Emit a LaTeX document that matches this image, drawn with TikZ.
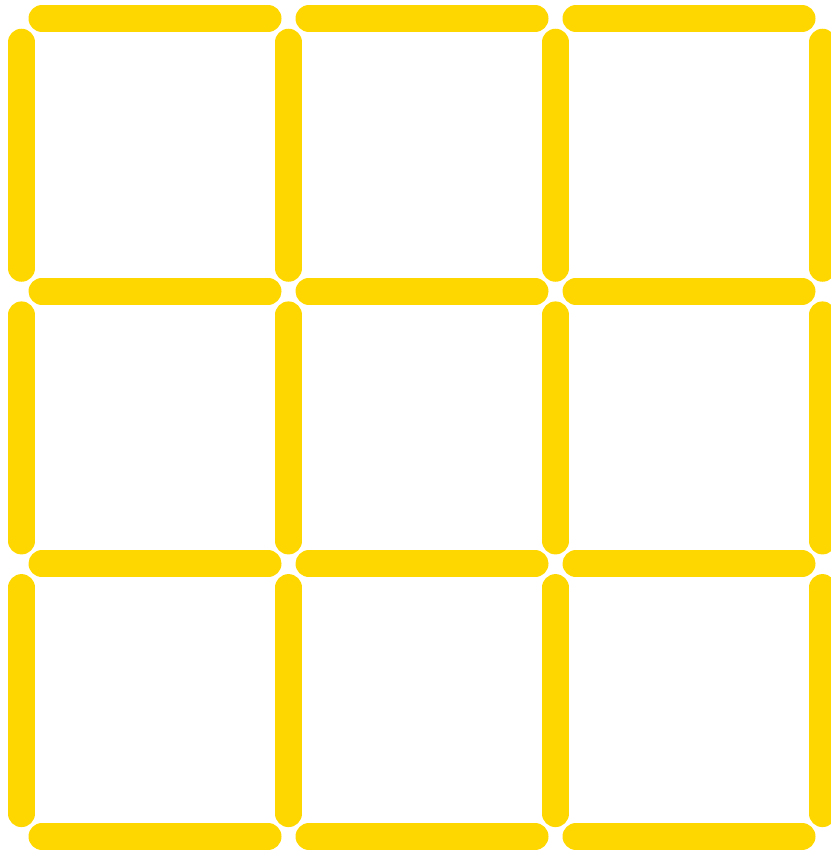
\documentclass[tikz,border=0pt]{standalone}
\usepackage{tikz}
\definecolor{matchgold}{HTML}{FFD700}
\tikzset{
  stick/.style={draw=matchgold, line width=27pt, line cap=round}
}
\begin{document}
\begin{tikzpicture}[x=1pt,y=-1pt]
\useasboundingbox (0,0) rectangle (830,850);
% horizontal matches
\foreach \i in {0,1,2}
  \foreach \j in {0,1,2,3}
    \draw[stick] ({155+267*\i-113},{18.5+272.67*\j}) -- ({155+267*\i+113},{18.5+272.67*\j});
% vertical matches
\foreach \i in {0,1,2,3}
  \foreach \j in {0,1,2}
    \draw[stick] ({21.5+267*\i},{155.25+272.67*\j-113}) -- ({21.5+267*\i},{155.25+272.67*\j+113});
\end{tikzpicture}
\end{document}
